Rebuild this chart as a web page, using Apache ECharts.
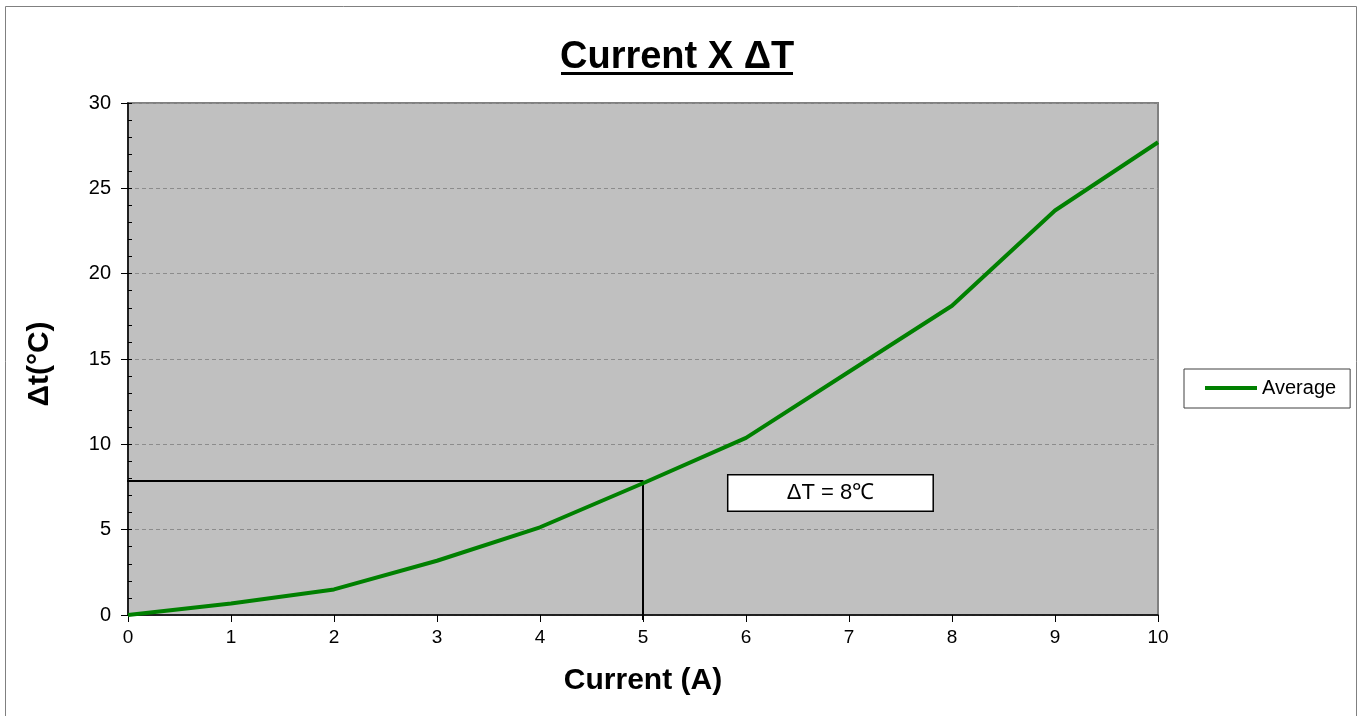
<!DOCTYPE html>
<html>
<head>
<meta charset="utf-8">
<script src="https://cdn.jsdelivr.net/npm/echarts@6/dist/echarts.min.js"></script>
<style>
html,body{margin:0;padding:0;background:#fff;}
#main{width:1364px;height:716px;}
</style>
</head>
<body>
<div id="main"></div>
<script>
var titleText = 'Current X \u0394T';
var xName = 'Current (A)';
var yName = '\u0394t(\u00b0C)';
var seriesName = 'Average';
var currents = [0, 1, 2, 3, 4, 5, 6, 7, 8, 9, 10];
var deltaT = [0, 0.68, 1.5, 3.18, 5.14, 7.72, 10.38, 14.25, 18.12, 23.7, 27.7];
var refX = [-0.08, 5, 5];
var refY = [7.85, 7.85, -0.3];
var noteText = '\u0394T = 8\u2103';
var notePos = [6.82, 7.15];

var font = '"Liberation Sans", Arial, sans-serif';
var chart = echarts.init(document.getElementById('main'));
var dataPts = currents.map(function (c, i) { return [c, deltaT[i]]; });
var refPts = refX.map(function (x, i) { return [x, refY[i]]; });

chart.setOption({
  animation: false,
  backgroundColor: '#ffffff',
  textStyle: { fontFamily: font },
  title: {
    text: titleText,
    left: 555,
    top: 34,
    textStyle: { fontSize: 38, fontWeight: 'bold', color: '#000', fontFamily: font }
  },
  legend: {
    left: 1184,
    top: 369,
    orient: 'vertical',
    padding: [9, 14, 10, 21],
    itemWidth: 52,
    itemHeight: 4,
    itemGap: 0,
    borderColor: '#404040',
    borderWidth: 1,
    backgroundColor: '#fff',
    borderRadius: 0,
    textStyle: { fontSize: 20, color: '#000', fontFamily: font },
    data: [{ name: seriesName, icon: 'path://M0,0H52V4H0Z', itemStyle: { color: '#008000' } }]
  },
  grid: {
    left: 128, right: 206, top: 103, bottom: 101,
    show: true,
    backgroundColor: '#c0c0c0',
    borderColor: '#808080',
    borderWidth: 2
  },
  xAxis: {
    type: 'value',
    min: 0, max: 10, interval: 1,
    name: xName,
    nameLocation: 'middle',
    nameGap: 51,
    nameTextStyle: { fontSize: 30, fontWeight: 'bold', color: '#000', fontFamily: font },
    axisLine: { show: true, onZero: false, lineStyle: { color: '#000', width: 1.5 } },
    axisTick: { show: true, length: 7, lineStyle: { color: '#000' } },
    axisLabel: { fontSize: 19, color: '#000', margin: 13, fontFamily: font },
    splitLine: { show: false }
  },
  yAxis: [{
    type: 'value',
    min: 0, max: 30, interval: 5,
    name: yName,
    nameLocation: 'middle',
    nameRotate: 90,
    nameGap: 73,
    nameTextStyle: { fontSize: 30, fontWeight: 'bold', color: '#000', fontFamily: font, padding: [0, 10, 0, 0] },
    axisLine: { show: true, onZero: false, lineStyle: { color: '#000', width: 1.5 } },
    axisTick: { show: true, length: 7, lineStyle: { color: '#000' } },
    axisLabel: { fontSize: 20, color: '#000', margin: 17, fontFamily: font },
    splitLine: { show: true, lineStyle: { color: '#8c8c8c', type: [4, 3], width: 1 } }
  }, {
    type: 'value',
    position: 'left',
    min: 0, max: 30, interval: 1,
    axisLine: { show: false },
    axisTick: { show: true, inside: true, length: 4, lineStyle: { color: '#000' } },
    axisLabel: { show: false },
    splitLine: { show: false }
  }],
  series: [{
    name: seriesName,
    type: 'line',
    data: dataPts,
    symbol: 'none',
    clip: false,
    z: 3,
    lineStyle: { color: '#008000', width: 4 },
    itemStyle: { color: '#008000' }
  }, {
    name: 'ref',
    type: 'line',
    data: refPts,
    symbol: 'none',
    clip: false,
    silent: true,
    z: 2,
    lineStyle: { color: '#000', width: 2 },
    markPoint: {
      silent: true,
      symbol: 'rect',
      symbolSize: 1,
      itemStyle: { color: 'rgba(0,0,0,0)' },
      label: {
        show: true, position: 'inside',
        formatter: '{a|' + noteText + '}',
        backgroundColor: '#fff', borderColor: '#000', borderWidth: 1.5,
        width: 204, height: 35, padding: 0, align: 'center', verticalAlign: 'middle',
        rich: {
          a: { fontSize: 22, color: '#000', fontFamily: 'Liberation Sans', lineHeight: 35, align: 'center' }
        }
      },
      data: [{ coord: notePos }]
    }
  }],
  graphic: [
    { type: 'rect', shape: { x: 5.5, y: 6.5, width: 1351, height: 720 }, style: { fill: 'none', stroke: '#808080', lineWidth: 1 }, silent: true },
    { type: 'rect', shape: { x: 561, y: 72, width: 232, height: 3 }, style: { fill: '#000' }, silent: true }
  ]
});
</script>
</body>
</html>
